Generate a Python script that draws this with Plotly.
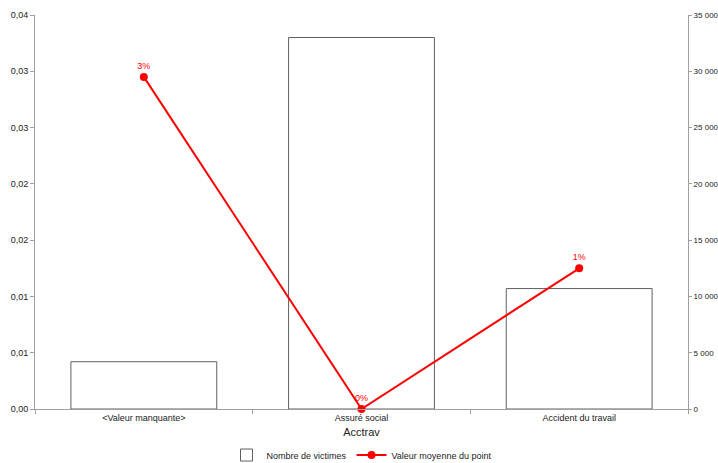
import plotly.graph_objects as go

categories = ["<Valeur manquante>", "Assuré social", "Accident du travail"]
victimes = [4200, 33000, 10700]
valeur_moyenne = [0.0295, 0.0, 0.0125]

left_tickvals = [0, 0.005, 0.01, 0.015, 0.02, 0.025, 0.03, 0.035]
left_ticktext = ["0,00", "0,01", "0,01", "0,02", "0,02", "0,03", "0,03", "0,04"]
right_tickvals = [0, 5000, 10000, 15000, 20000, 25000, 30000, 35000]
right_ticktext = ["0", "5 000", "10 000", "15 000", "20 000", "25 000", "30 000", "35 000"]

FONT = "Liberation Sans, Arial, sans-serif"
AXIS_GREY = "#a0a0a0"

fig = go.Figure()

fig.add_trace(go.Bar(
    x=categories, y=victimes, name="Nombre de victimes",
    marker=dict(color="white", line=dict(color="#606060", width=1)),
    width=0.67, yaxis="y",
))

fig.add_trace(go.Scatter(
    x=categories, y=valeur_moyenne, name="Valeur moyenne du point",
    mode="lines+markers+text",
    line=dict(color="#ff0000", width=2),
    marker=dict(color="#ff0000", size=8),
    text=[f"{round(v * 100)}%" for v in valeur_moyenne],
    textposition="top center",
    textfont=dict(color="#ff0000", size=9, family=FONT),
    cliponaxis=False, yaxis="y2",
))

fig.update_layout(
    width=718, height=463,
    margin=dict(l=35, r=30, t=15, b=54, autoexpand=False),
    paper_bgcolor="white", plot_bgcolor="white",
    font=dict(family=FONT, size=9, color="#222222"),
    showlegend=True,
    legend=dict(orientation="h", x=0.5, xanchor="center", y=-0.08, yanchor="top",
                font=dict(size=9), traceorder="normal", itemwidth=30),
    xaxis=dict(
        title=dict(text="Acctrav", font=dict(size=11), standoff=6),
        showline=True, linecolor=AXIS_GREY, ticks="outside", tickcolor=AXIS_GREY,
        ticklen=4, tickson="boundaries", showgrid=False, zeroline=False,
        range=[-0.5, 2.5],
    ),
    yaxis=dict(
        side="right", range=[0, 35000], tickvals=right_tickvals, ticktext=right_ticktext,
        showline=True, linecolor=AXIS_GREY, ticks="outside", tickcolor=AXIS_GREY,
        ticklen=3, showgrid=False, zeroline=False,
        tickfont=dict(size=8, family="Liberation Sans Narrow, Liberation Sans, Arial, sans-serif"),
    ),
    yaxis2=dict(
        overlaying="y", side="left", range=[0, 0.035],
        tickvals=left_tickvals, ticktext=left_ticktext,
        showline=True, linecolor=AXIS_GREY, ticks="outside", tickcolor=AXIS_GREY,
        ticklen=4, showgrid=False, zeroline=False, tickfont=dict(size=9),
    ),
)

fig.write_html("out.html")
